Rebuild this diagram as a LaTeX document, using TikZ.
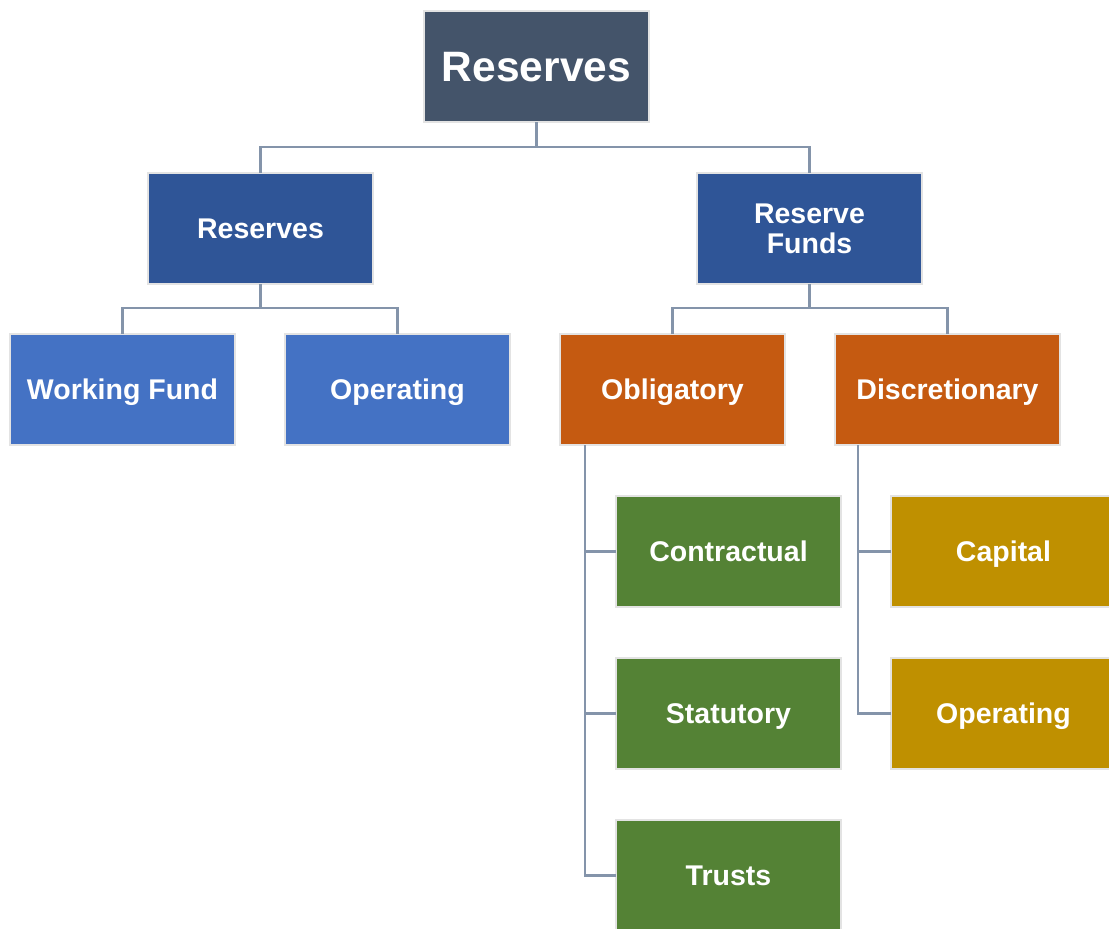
\documentclass[tikz,border=0pt]{standalone}
\usepackage{fontspec}
\setmainfont{Liberation Sans}
\begin{document}
\begin{tikzpicture}[x=1pt,y=-1pt,
  box/.style={draw=black!11,line width=2.5pt,minimum width=225pt,minimum height=111pt,
    text=white,font=\bfseries\fontsize{28.5}{30}\selectfont,inner sep=0pt,outer sep=0pt,
    text height=20.4pt,text depth=0pt},
  twoline/.style={align=center,text height={},text depth={}},
  conn/.style={draw=lineC,line width=2.1pt}]
\definecolor{topC}{HTML}{44546A}
\definecolor{darkB}{HTML}{2F5597}
\definecolor{lightB}{HTML}{4472C4}
\definecolor{orangeC}{HTML}{C55A11}
\definecolor{greenC}{HTML}{548235}
\definecolor{goldC}{HTML}{BF9000}
\definecolor{lineC}{HTML}{8494AA}
\useasboundingbox (0,0) rectangle (1109,929);
\node[box,fill=topC,font=\bfseries\fontsize{42.5}{48}\selectfont,text height=30.4pt] (top) at (536.5,66.5) {Reserves};
\node[box,fill=darkB] (r1) at (260.5,228.5) {Reserves};
\node[box,twoline,fill=darkB] (r2) at (809.5,228.5) {Reserve\\Funds};
\node[box,fill=lightB] (wf) at (122.5,389.5) {Working Fund};
\node[box,fill=lightB] (op1) at (397.5,389.5) {Operating};
\node[box,fill=orangeC] (ob) at (672.5,389.5) {Obligatory};
\node[box,fill=orangeC] (di) at (947.5,389.5) {Discretionary};
\node[box,fill=greenC] (co) at (728.5,551.5) {Contractual};
\node[box,fill=greenC] (st) at (728.5,713.5) {Statutory};
\node[box,fill=greenC] (tr) at (728.5,875.5) {Trusts};
\node[box,fill=goldC] (ca) at (1003.5,551.5) {Capital};
\node[box,fill=goldC] (op2) at (1003.5,713.5) {Operating};
\draw[conn] (top.south) -- ++(0,25) -| (r1.north);
\draw[conn] (top.south) -- ++(0,25) -| (r2.north);
\draw[conn] (r1.south) -- ++(0,24) -| (wf.north);
\draw[conn] (r1.south) -- ++(0,24) -| (op1.north);
\draw[conn] (r2.south) -- ++(0,24) -| (ob.north);
\draw[conn] (r2.south) -- ++(0,24) -| (di.north);
\draw[conn] ([xshift=25pt]ob.south west) |- (co.west);
\draw[conn] ([xshift=25pt]ob.south west) |- (st.west);
\draw[conn] ([xshift=25pt]ob.south west) |- (tr.west);
\draw[conn] ([xshift=23pt]di.south west) |- (ca.west);
\draw[conn] ([xshift=23pt]di.south west) |- (op2.west);
\end{tikzpicture}
\end{document}
